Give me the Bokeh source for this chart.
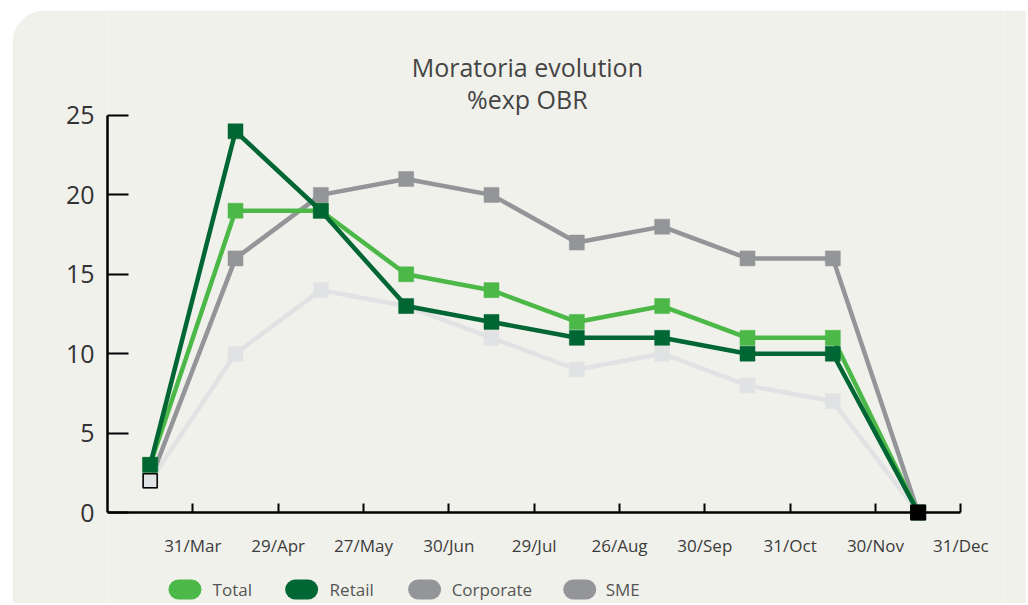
import numpy as np
from bokeh.plotting import figure
from bokeh.models import Range1d, Label, FixedTicker
from bokeh.embed import file_html
from bokeh.resources import INLINE
from bokeh.core.properties import value

# ---- data ----
tick_labels = ["31/Mar", "29/Apr", "27/May", "30/Jun", "29/Jul",
               "26/Aug", "30/Sep", "31/Oct", "30/Nov", "31/Dec"]
total = [3, 19, 19, 15, 14, 12, 13, 11, 11, 0]
retail = [3, 24, 19, 13, 12, 11, 11, 10, 10, 0]
corporate = [2, 16, 20, 21, 20, 17, 18, 16, 16, 0]
sme = [2, 10, 14, 13, 11, 9, 10, 8, 7, 0]
series_names = ["Total", "Retail", "Corporate", "SME"]

BG = "#f1f1ec"
C_TOTAL = "#4cb848"
C_RETAIL = "#006633"
C_CORP = "#939598"
C_SME = "#e1e2e3"
FONT = "Open Sans"

n = len(total)
xs = np.arange(n) + 0.5          # points sit in the middle of each period
ticks = list(range(1, n + 1))    # period boundaries carry the labels

# frame spans the whole panel height so titles, labels and legend are not clipped
p = figure(width=1014, height=593, x_range=Range1d(0, 10.5), y_range=Range1d(-5.73, 31.61),
           output_backend="svg", toolbar_location=None,
           background_fill_color=BG, border_fill_color=BG, outline_line_color=None,
           min_border_left=95, min_border_right=23, min_border_top=0, min_border_bottom=0,
           margin=(10, 0, 0, 12))
p.styles = {"border-radius": "34px 0 0 0", "overflow": "hidden"}
p.grid.visible = False

# x axis at y = 0
xa = p.xaxis[0]
xa.ticker = FixedTicker(ticks=ticks)
xa.major_label_overrides = {t: lab for t, lab in zip(ticks, tick_labels)}
xa.bounds = (0, 10)
xa.fixed_location = 0
xa.axis_line_width = 2.5
xa.axis_line_color = "black"
xa.major_tick_line_width = 2
xa.major_tick_line_color = "black"
xa.major_tick_in = 9
xa.major_tick_out = 0
xa.minor_tick_line_color = None
xa.major_label_standoff = 21
xa.major_label_text_font = FONT
xa.major_label_text_font_size = "17px"
xa.major_label_text_color = "#3c3c3c"

# y axis
ya = p.yaxis[0]
ya.ticker = FixedTicker(ticks=[0, 5, 10, 15, 20, 25])
ya.bounds = (0, 25)
ya.axis_line_width = 2.5
ya.axis_line_color = "black"
ya.major_tick_line_width = 2
ya.major_tick_line_color = "black"
ya.major_tick_in = 21
ya.major_tick_out = 0
ya.minor_tick_line_color = None
ya.major_label_standoff = 13
ya.major_label_text_font = FONT
ya.major_label_text_font_size = "25px"
ya.major_label_text_color = "#333333"

# series (back to front)
series = {"Total": (total, C_TOTAL), "Retail": (retail, C_RETAIL),
          "Corporate": (corporate, C_CORP), "SME": (sme, C_SME)}
for name in ["SME", "Corporate", "Total", "Retail"]:
    vals, col = series[name]
    p.line(xs, vals, line_color=col, line_width=4.5)
    p.scatter(xs, vals, marker="square", size=15, fill_color=col, line_color=col, line_width=0.5)

# highlighted first/last points
p.scatter([xs[0]], [sme[0]], marker="square", size=14, fill_color=C_SME,
          line_color="black", line_width=1.5)
p.scatter([xs[-1]], [total[-1]], marker="square", size=15, fill_color="black",
          line_color="black")

# title
for txt, yy in [("Moratoria evolution", 28.08), ("%exp OBR", 26.05)]:
    p.add_layout(Label(x=4.92, y=yy, text=txt, text_align="center", text_baseline="alphabetic",
                       text_font=FONT, text_font_size="25px", text_color="#444444"))

# legend: pill swatches + labels along the bottom of the panel
legend_colors = [C_TOTAL, C_RETAIL, C_CORP, C_CORP]
pill_center = np.array([0.908, 2.275, 3.716, 5.534])
label_start = np.array([1.231, 2.603, 4.033, 5.838])
legend_y = -4.85
half = 0.076
p.segment(x0=pill_center - half, y0=[legend_y] * 4, x1=pill_center + half, y1=[legend_y] * 4,
          line_color=legend_colors, line_width=20, line_cap="round")
p.text(x=label_start, y=[legend_y] * 4, text=series_names, text_align="left",
       text_baseline="middle", text_font=value(FONT), text_font_size="17px",
       text_color="#555555")

open("out.html", "w").write(file_html(p, INLINE))
